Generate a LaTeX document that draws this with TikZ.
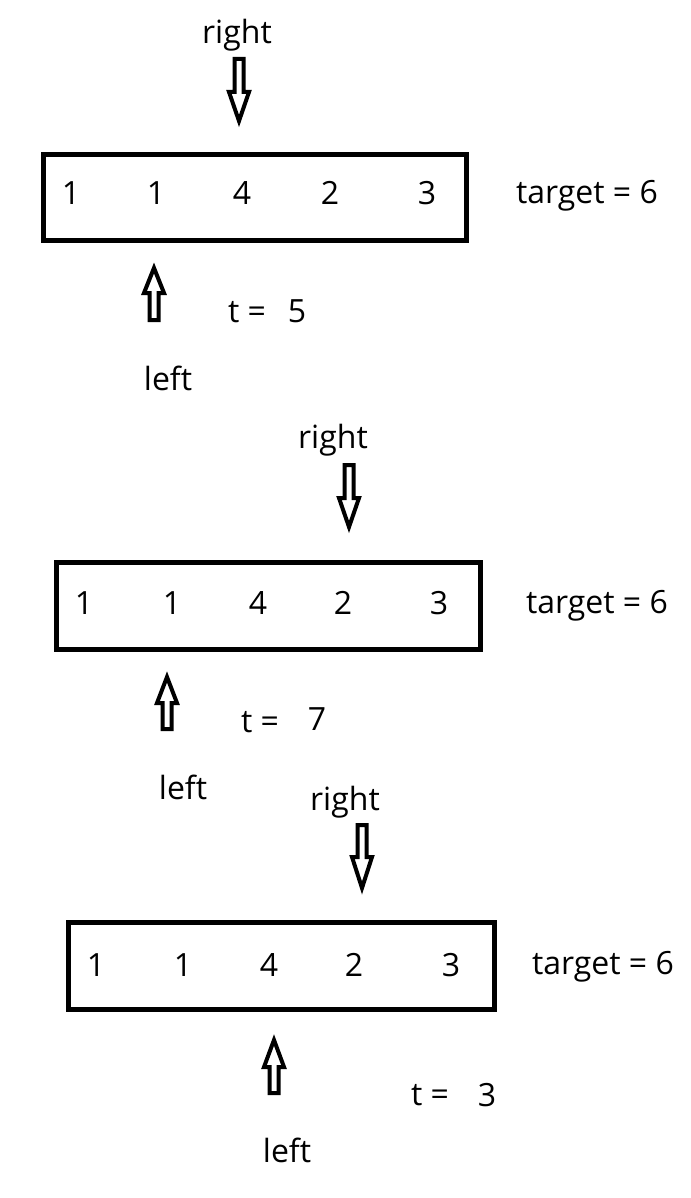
\documentclass[tikz,border=0pt]{standalone}
\usepackage{fontspec}
\setmainfont{Open Sans}
\begin{document}
\begin{tikzpicture}[x=0.75pt,y=-0.75pt,
  lbl/.style={inner sep=0pt,font=\fontsize{24}{28}\selectfont},
  arraybox/.style={draw=black,line width=3.75pt,line join=miter},
  ptr/.style={draw=black,line width=3pt,line join=miter,fill=white}]
\useasboundingbox (0,0) rectangle (690,1198);
% down arrow: #1 x, #2 shaft top, #3 head base, #4 tip
\newcommand{\dnarrow}[4]{%
  \draw[ptr] (#1-4.5,#2+2) -- (#1+4.5,#2+2) -- (#1+4.5,#3) -- (#1+10,#3) -- (#1,#4-4) -- (#1-10,#3) -- (#1-4.5,#3) -- cycle;}
% up arrow: #1 x, #2 tip, #3 head base, #4 shaft bottom
\newcommand{\uparr}[4]{%
  \draw[ptr] (#1-4.5,#4-2) -- (#1+4.5,#4-2) -- (#1+4.5,#3) -- (#1+10,#3) -- (#1,#2+4) -- (#1-10,#3) -- (#1-4.5,#3) -- cycle;}

% ---------- Panel 1 ----------
\draw[arraybox] (43.5,154.5) rectangle (466.5,240.5);
\node[lbl] (a1) at (71,193) {1};
\node[lbl] (a2) at (156,193) {1};
\node[lbl] (a3) at (242,193) {4};
\node[lbl] (a4) at (330,193) {2};
\node[lbl] (a5) at (427,193) {3};
\node[lbl] (tg1) at (587,196) {target = 6};
\node[lbl] (r1) at (237,35) {right};
\dnarrow{239}{57}{92}{125}
\uparr{154}{264}{293}{322}
\node[lbl] (te1) at (247,312) {t =};
\node[lbl] (tv1) at (297,311) {5};
\node[lbl] (l1) at (168,378) {left};

% ---------- Panel 2 ----------
\draw[arraybox] (56.5,562) rectangle (480.5,649);
\node[lbl] (b1) at (84,603) {1};
\node[lbl] (b2) at (172,603) {1};
\node[lbl] (b3) at (258,603) {4};
\node[lbl] (b4) at (343,603) {2};
\node[lbl] (b5) at (439,603) {3};
\node[lbl] (tg2) at (597,606) {target = 6};
\node[lbl] (r2) at (333,440) {right};
\dnarrow{349}{463}{498}{531}
\uparr{167}{673}{703}{731}
\node[lbl] (te2) at (260,722) {t =};
\node[lbl] (tv2) at (317,719) {7};
\node[lbl] (l2) at (183,787) {left};

% ---------- Panel 3 ----------
\draw[arraybox] (68.5,922.5) rectangle (494.5,1009.5);
\node[lbl] (c1) at (96,965) {1};
\node[lbl] (c2) at (183,965) {1};
\node[lbl] (c3) at (269,965) {4};
\node[lbl] (c4) at (354,965) {2};
\node[lbl] (c5) at (451,965) {3};
\node[lbl] (tg3) at (603,967) {target = 6};
\node[lbl] (r3) at (345,802) {right};
\dnarrow{362}{823}{857}{892}
\uparr{274}{1036}{1067}{1095}
\node[lbl] (te3) at (430,1095) {t =};
\node[lbl] (tv3) at (487,1095) {3};
\node[lbl] (l3) at (287,1150) {left};
\end{tikzpicture}
\end{document}
